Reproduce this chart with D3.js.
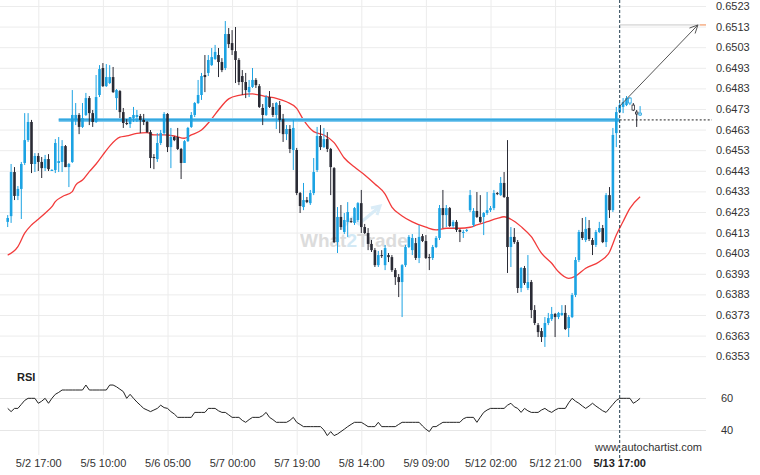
<!DOCTYPE html>
<html><head><meta charset="utf-8">
<script src="https://cdn.jsdelivr.net/npm/d3@7"></script>
<style>html,body{margin:0;padding:0;background:#fff;} svg{display:block;font-family:'Liberation Sans',Arial,sans-serif;}</style>
</head><body><svg id="chart" width="760" height="475"></svg>
<script>
// ---------- DATA ----------
const tickIndex = [9, 28, 47, 66, 85, 104, 123, 142, 161];
const tickLabels = ["5/2 17:00","5/5 10:00","5/6 05:00","5/7 00:00","5/7 19:00","5/8 14:00","5/9 09:00","5/12 02:00","5/12 21:00"];
const breakoutIndex = 180;
const breakoutLabel = "5/13 17:00";
const yTicks = [0.6353,0.6363,0.6373,0.6383,0.6393,0.6403,0.6413,0.6423,0.6433,0.6443,0.6453,0.6463,0.6473,0.6483,0.6493,0.6503,0.6513,0.6523];
const rsiTicks = [40, 60];
const supportPrice = 0.64677;
const supportStartIndex = 15;
const arrowStart = [180, 0.64744];
const arrowEnd = [203, 0.65138];

const opens = [
0.64182,0.64210,0.64424,0.64308,0.64342,0.64468,0.64579,0.64667,0.64463,0.64502,
0.64473,0.64443,0.64487,0.64434,0.64434,0.64468,0.64473,0.64550,0.64448,0.64473,
0.64677,0.64701,0.64643,0.64701,0.64783,0.64710,0.64667,0.64798,0.64929,0.64841,
0.64856,0.64885,0.64783,0.64817,0.64715,0.64662,0.64657,0.64686,0.64691,0.64696,
0.64677,0.64667,0.64618,0.64497,0.64487,0.64565,0.64613,0.64706,0.64545,0.64594,
0.64594,0.64536,0.64468,0.64574,0.64643,0.64701,0.64759,0.64798,0.64895,0.64905,
0.64943,0.64973,0.64992,0.64958,0.64929,0.65094,0.65050,0.65011,0.64968,0.64890,
0.64861,0.64812,0.64837,0.64871,0.64841,0.64735,0.64701,0.64788,0.64740,0.64701,
0.64749,0.64681,0.64608,0.64633,0.64531,0.64531,0.64322,0.64254,0.64288,0.64273,
0.64322,0.64434,0.64599,0.64545,0.64584,0.64536,0.64443,0.64084,0.64206,0.64133,
0.64182,0.64186,0.64177,0.64191,0.64273,0.64157,0.64128,0.64075,0.64045,0.63972,
0.64021,0.63972,0.64021,0.64011,0.63948,0.63914,0.63890,0.63972,0.64060,0.64045,
0.64079,0.64007,0.64113,0.64089,0.64011,0.64007,0.64060,0.64104,0.64249,0.64215,
0.64249,0.64162,0.64182,0.64143,0.64128,0.64138,0.64239,0.64167,0.64235,0.64206,
0.64206,0.64225,0.64239,0.64249,0.64322,0.64312,0.64371,0.64303,0.64060,0.64109,
0.64084,0.63861,0.63958,0.63861,0.63890,0.63754,0.63681,0.63652,0.63623,0.63691,
0.63710,0.63735,0.63720,0.63730,0.63740,0.63667,0.63720,0.63827,0.63997,0.64133,
0.64094,0.64152,0.64094,0.64070,0.64133,0.64152,0.64084,0.64312,0.64239,0.64613,
0.64715,0.64740,0.64749,0.64759,0.64749,0.64715,0.64701];
const highs = [
0.64215,0.64463,0.64448,0.64356,0.64473,0.64710,0.64710,0.64677,0.64516,0.64516,
0.64497,0.64507,0.64511,0.64438,0.64584,0.64594,0.64579,0.64555,0.64468,0.64822,
0.64759,0.64710,0.64759,0.64808,0.64793,0.64725,0.64895,0.64943,0.64953,0.64948,
0.64943,0.64934,0.64827,0.64822,0.64735,0.64681,0.64691,0.64740,0.64725,0.64706,
0.64706,0.64672,0.64628,0.64511,0.64613,0.64628,0.64715,0.64710,0.64638,0.64599,
0.64638,0.64541,0.64579,0.64643,0.64715,0.64764,0.64871,0.64905,0.64992,0.64992,
0.65026,0.65041,0.65026,0.64977,0.65157,0.65123,0.65113,0.65128,0.64977,0.64919,
0.64905,0.64871,0.64929,0.64880,0.64851,0.64754,0.64798,0.64817,0.64759,0.64764,
0.64769,0.64706,0.64652,0.64652,0.64677,0.64541,0.64327,0.64371,0.64303,0.64337,
0.64492,0.64643,0.64652,0.64638,0.64618,0.64541,0.64448,0.64254,0.64264,0.64225,
0.64278,0.64201,0.64254,0.64278,0.64337,0.64172,0.64152,0.64094,0.64055,0.64041,
0.64045,0.64070,0.64031,0.64021,0.63958,0.63929,0.63977,0.64070,0.64118,0.64123,
0.64104,0.64167,0.64123,0.64118,0.64026,0.64070,0.64113,0.64264,0.64337,0.64264,
0.64254,0.64191,0.64191,0.64148,0.64143,0.64148,0.64337,0.64249,0.64327,0.64312,
0.64230,0.64327,0.64259,0.64337,0.64327,0.64400,0.64424,0.64579,0.64157,0.64152,
0.64094,0.63963,0.63968,0.64021,0.63900,0.63778,0.63691,0.63667,0.63720,0.63740,
0.63769,0.63740,0.63745,0.63778,0.63778,0.63730,0.63837,0.64011,0.64143,0.64201,
0.64206,0.64191,0.64104,0.64143,0.64182,0.64167,0.64322,0.64351,0.64638,0.64740,
0.64759,0.64783,0.64793,0.64788,0.64759,0.64725,0.64744];
const lows = [
0.64157,0.64177,0.64288,0.64288,0.64196,0.64458,0.64570,0.64419,0.64424,0.64429,
0.64395,0.64429,0.64429,0.64429,0.64419,0.64424,0.64424,0.64448,0.64351,0.64468,
0.64652,0.64608,0.64638,0.64696,0.64652,0.64643,0.64662,0.64788,0.64837,0.64837,
0.64851,0.64808,0.64725,0.64686,0.64638,0.64652,0.64638,0.64667,0.64667,0.64613,
0.64652,0.64613,0.64443,0.64438,0.64473,0.64555,0.64604,0.64521,0.64443,0.64574,
0.64531,0.64390,0.64468,0.64570,0.64638,0.64691,0.64754,0.64774,0.64812,0.64890,
0.64939,0.64968,0.64885,0.64909,0.64919,0.65026,0.64992,0.64856,0.64846,0.64798,
0.64783,0.64788,0.64832,0.64832,0.64735,0.64652,0.64696,0.64735,0.64691,0.64633,
0.64613,0.64570,0.64579,0.64516,0.64434,0.64312,0.64225,0.64239,0.64273,0.64264,
0.64312,0.64424,0.64531,0.64541,0.64521,0.64312,0.64079,0.64031,0.64143,0.64123,
0.64109,0.64177,0.64167,0.64182,0.64128,0.64123,0.64045,0.64036,0.63963,0.63963,
0.64007,0.63948,0.63987,0.63939,0.63876,0.63817,0.63720,0.63963,0.64055,0.64021,
0.63997,0.63982,0.64084,0.64002,0.63948,0.63997,0.64055,0.64094,0.64152,0.64157,
0.64157,0.64152,0.64133,0.64084,0.64104,0.64133,0.64230,0.64157,0.64201,0.64177,
0.64118,0.64215,0.64230,0.64239,0.64312,0.64308,0.64298,0.63934,0.63963,0.64075,
0.63837,0.63841,0.63876,0.63851,0.63715,0.63681,0.63623,0.63599,0.63575,0.63681,
0.63701,0.63623,0.63710,0.63725,0.63657,0.63623,0.63715,0.63817,0.63987,0.64094,
0.64084,0.64089,0.64021,0.64060,0.64128,0.64079,0.64060,0.64201,0.64230,0.64545,
0.64710,0.64710,0.64744,0.64749,0.64720,0.64643,0.64696];
const closes = [
0.64201,0.64424,0.64308,0.64342,0.64463,0.64579,0.64667,0.64463,0.64502,0.64473,
0.64443,0.64487,0.64438,0.64434,0.64565,0.64477,0.64550,0.64448,0.64463,0.64701,
0.64701,0.64643,0.64686,0.64783,0.64710,0.64667,0.64788,0.64924,0.64841,0.64885,
0.64885,0.64812,0.64822,0.64715,0.64662,0.64657,0.64691,0.64701,0.64701,0.64677,
0.64667,0.64618,0.64492,0.64492,0.64565,0.64613,0.64706,0.64545,0.64594,0.64579,
0.64536,0.64468,0.64574,0.64638,0.64701,0.64759,0.64798,0.64890,0.64885,0.64968,
0.64982,0.65007,0.64958,0.64919,0.65094,0.65045,0.65016,0.64968,0.64861,0.64861,
0.64822,0.64837,0.64871,0.64846,0.64740,0.64701,0.64788,0.64740,0.64701,0.64759,
0.64677,0.64608,0.64633,0.64536,0.64638,0.64322,0.64259,0.64288,0.64278,0.64322,
0.64424,0.64599,0.64545,0.64584,0.64536,0.64448,0.64084,0.64206,0.64157,0.64191,
0.64230,0.64182,0.64249,0.64273,0.64157,0.64128,0.64075,0.64045,0.63972,0.64021,
0.64016,0.64055,0.64011,0.63948,0.63914,0.63890,0.63972,0.64060,0.64109,0.64104,
0.64007,0.64109,0.64089,0.64007,0.64007,0.64060,0.64104,0.64249,0.64215,0.64249,
0.64162,0.64182,0.64143,0.64133,0.64133,0.64143,0.64312,0.64235,0.64206,0.64182,
0.64225,0.64239,0.64249,0.64322,0.64317,0.64371,0.64303,0.64060,0.64109,0.64084,
0.63861,0.63958,0.63885,0.63890,0.63754,0.63691,0.63647,0.63623,0.63691,0.63715,
0.63735,0.63720,0.63740,0.63740,0.63662,0.63720,0.63827,0.63997,0.64133,0.64104,
0.64148,0.64099,0.64070,0.64133,0.64152,0.64084,0.64312,0.64239,0.64604,0.64715,
0.64749,0.64764,0.64783,0.64783,0.64725,0.64706,0.64710];

const maIndex = [0,3,5,7,9,11,13,14,16,19,20,22,24,26,28,30,33,35,38,41,43,46,49,52,54,57,60,62,65,68,72,76,79,82,85,87,90,93,96,99,102,105,108,111,113,116,119,123,126,129,133,136,138,141,144,146,148,151,154,157,160,162,165,167,170,174,177,179,181,183,186];
const maValues = [
0.64021,0.64062,0.64127,0.64167,0.64195,0.64224,0.64256,0.64280,0.64304,0.64329,
0.64361,0.64385,0.64426,0.64463,0.64507,0.64550,0.64593,0.64599,0.64612,0.64615,
0.64604,0.64604,0.64599,0.64588,0.64604,0.64628,0.64682,0.64725,0.64779,0.64796,
0.64803,0.64790,0.64782,0.64765,0.64733,0.64677,0.64620,0.64604,0.64567,0.64492,
0.64448,0.64410,0.64366,0.64317,0.64254,0.64211,0.64182,0.64156,0.64143,0.64151,
0.64151,0.64156,0.64167,0.64183,0.64199,0.64207,0.64195,0.64159,0.64110,0.64030,
0.63981,0.63940,0.63908,0.63919,0.63957,0.63989,0.64036,0.64118,0.64184,0.64248,
0.64304];

const rsiValues = [
53.5,51.5,53.5,53.5,56,58.5,59.8,59.8,59.8,56.7,
58,59.8,56.7,59.8,62.3,63.5,65,65,65,65,
65,65,65,68.1,65,65,65,65,65,65,
68.1,68.1,67,65.5,64,59.8,62.3,59.8,57.5,55.5,
53.5,52.5,51.5,52.5,53.5,55.5,54,53.5,51.5,50,
47.9,47.9,47.9,47.9,47.9,51,51,51,51,53.5,
53.5,53.5,52,51,51,49.5,47.9,47.9,47.9,46,
44.8,46.5,47.9,47.9,47.9,49,51,47.9,46.5,44.8,
44.8,44.8,44.8,46,47.9,44.8,43.5,42.1,42.1,42.1,
42.1,42.1,42.1,40,36.5,39,36.5,37.5,39,40.5,
42.1,43.5,44.8,44.8,44.8,43.5,42.1,42.1,42.1,44.8,
42.1,42.1,42.1,42.1,42.1,43.5,44.8,44.8,44.8,44.8,
44.8,44.8,42.5,40.5,39,42.1,42.1,43.5,44.8,44.8,
44.8,44.8,44.8,44.8,47,47.9,47.9,47.9,44.8,48,
51,52.5,53.5,53.5,53.5,53.5,53.5,55.5,56.7,54.5,
53.5,51,53.5,52,51,51,51,52.5,53.5,52,
51,52.5,53.5,53.5,53.5,57,59.8,58,56.7,55,
53.5,55,56.7,55,53.5,52,51,53.5,56,58.5,
59.8,59.8,59.8,59.8,56.7,58,59.8];

// ---------- LAYOUT ----------
const plotRight = 706;
const upColor = "#1ca3e3", downColor = "#2a2b35", gridColor = "#ececec";
const svg = d3.select("#chart");
const x = d3.scaleLinear().domain([0, 186]).range([7.7, 640.1]);
const y = d3.scaleLinear().domain([0.6353, 0.6523]).range([356.2, 6]);
const yR = d3.scaleLinear().domain([40, 60]).range([430, 398]);

// price axis + horizontal grid
const yAxis = svg.append("g").attr("transform", `translate(${plotRight},0)`)
  .call(d3.axisRight(y).tickValues(yTicks).tickFormat(d3.format(".4f")).tickSize(-plotRight).tickPadding(10));
yAxis.select(".domain").remove();
yAxis.selectAll("line").attr("stroke", gridColor);
yAxis.selectAll("text").attr("fill", "#333").attr("font-size", 11).attr("font-family", "'Liberation Sans',Arial,sans-serif");

// RSI axis + grid
const rAxis = svg.append("g").attr("transform", `translate(${plotRight},0)`)
  .call(d3.axisRight(yR).tickValues(rsiTicks).tickSize(-plotRight).tickPadding(15));
rAxis.select(".domain").remove();
rAxis.selectAll("line").attr("stroke", "#e6e6e6");
rAxis.selectAll("text").attr("fill", "#333").attr("font-size", 11).attr("font-family", "'Liberation Sans',Arial,sans-serif");

// time axis + vertical grid
const xAxis = svg.append("g").attr("transform", "translate(0,455)")
  .call(d3.axisBottom(x).tickValues(tickIndex).tickFormat((d, i) => tickLabels[i]).tickSize(-455).tickPadding(4));
xAxis.select(".domain").remove();
xAxis.selectAll("line").attr("stroke", gridColor);
xAxis.selectAll("text").attr("fill", "#333").attr("font-size", 11).attr("font-family", "'Liberation Sans',Arial,sans-serif");

// watermark
const wm = svg.append("g").attr("opacity", 0.9);
wm.append("polyline")
  .attr("points", [[341, 229], [352, 218], [359, 224], [378, 208]].map(p => p.join(",")).join(" "))
  .attr("fill", "none").attr("stroke", "#d6ebf7").attr("stroke-width", 3);
wm.append("path").attr("d", "M371,208 L380,206 L377,215").attr("fill", "none").attr("stroke", "#d6ebf7").attr("stroke-width", 3);
const wt = wm.append("text").attr("x", 300).attr("y", 247).attr("font-size", 19).attr("font-weight", "bold")
  .attr("font-family", "'Liberation Sans',Arial,sans-serif");
wt.append("tspan").attr("fill", "#d9d9d9").text("What");
wt.append("tspan").attr("fill", "#cfe7f5").text("2");
wt.append("tspan").attr("fill", "#d9d9d9").text("Trade");

// moving average
const maPts = maIndex.map((d, i) => [d, maValues[i]]);
svg.append("path").datum(maPts)
  .attr("d", d3.line().x(d => x(d[0])).y(d => y(d[1])).curve(d3.curveMonotoneX))
  .attr("fill", "none").attr("stroke", "#f23b3b").attr("stroke-width", 1.3);

// support line
svg.append("line").attr("x1", x(supportStartIndex)).attr("x2", x(breakoutIndex))
  .attr("y1", y(supportPrice)).attr("y2", y(supportPrice))
  .attr("stroke", "#7fcaf0").attr("stroke-width", 4);
svg.append("line").attr("x1", x(supportStartIndex)).attr("x2", x(breakoutIndex))
  .attr("y1", y(supportPrice)).attr("y2", y(supportPrice))
  .attr("stroke", "#1d9bd8").attr("stroke-width", 1.4);

// candles
const candles = opens.map((o, i) => ({ i, o, h: highs[i], l: lows[i], c: closes[i] }));
const cg = svg.append("g");
const bw = 2.6;
cg.selectAll("line.wick").data(candles).join("line")
  .attr("class", "wick")
  .attr("x1", d => x(d.i)).attr("x2", d => x(d.i))
  .attr("y1", d => y(d.h)).attr("y2", d => y(d.l))
  .attr("stroke", d => d.c >= d.o ? upColor : downColor).attr("stroke-width", 1);
cg.selectAll("rect.body").data(candles).join("rect")
  .attr("class", "body")
  .attr("x", d => x(d.i) - bw / 2)
  .attr("width", bw)
  .attr("y", d => y(Math.max(d.o, d.c)))
  .attr("height", d => Math.max(1, Math.abs(y(d.o) - y(d.c))))
  .attr("fill", d => d.i > breakoutIndex + 2 ? "#fff" : (d.c >= d.o ? upColor : downColor))
  .attr("stroke", d => d.i > breakoutIndex + 2 ? (d.c >= d.o ? upColor : downColor) : "none")
  .attr("stroke-width", 0.8);

// breakout dashed vertical
svg.append("line").attr("x1", x(breakoutIndex)).attr("x2", x(breakoutIndex))
  .attr("y1", 0).attr("y2", 458)
  .attr("stroke", "#1e3a4c").attr("stroke-width", 1).attr("stroke-dasharray", "3,2");
// dotted continuation of level
svg.append("line").attr("x1", x(breakoutIndex)).attr("x2", plotRight + 6)
  .attr("y1", y(supportPrice)).attr("y2", y(supportPrice))
  .attr("stroke", "#222").attr("stroke-width", 1).attr("stroke-dasharray", "2,2");
// target level line
svg.append("line").attr("x1", x(breakoutIndex)).attr("x2", plotRight - 6)
  .attr("y1", y(arrowEnd[1])).attr("y2", y(arrowEnd[1]))
  .attr("stroke", "#c8c8c8").attr("stroke-width", 1);
svg.append("line").attr("x1", plotRight - 6).attr("x2", plotRight)
  .attr("y1", y(arrowEnd[1])).attr("y2", y(arrowEnd[1]))
  .attr("stroke", "#f0874a").attr("stroke-width", 1);
// arrow
const ax1 = x(arrowStart[0]), ay1 = y(arrowStart[1]), ax2 = x(arrowEnd[0]), ay2 = y(arrowEnd[1]);
svg.append("line").attr("x1", ax1).attr("y1", ay1).attr("x2", ax2).attr("y2", ay2)
  .attr("stroke", "#555").attr("stroke-width", 1);
const ang = Math.atan2(ay2 - ay1, ax2 - ax1), L = 9, spread = 0.45;
svg.append("path")
  .attr("d", `M${ax2 - L * Math.cos(ang - spread)},${ay2 - L * Math.sin(ang - spread)} L${ax2},${ay2} L${ax2 - L * Math.cos(ang + spread)},${ay2 - L * Math.sin(ang + spread)}`)
  .attr("fill", "none").attr("stroke", "#555").attr("stroke-width", 1);

// RSI line
svg.append("path").datum(rsiValues)
  .attr("d", d3.line().x((d, i) => x(i)).y(d => yR(d)))
  .attr("fill", "none").attr("stroke", "#222").attr("stroke-width", 1);
svg.append("text").attr("x", 17).attr("y", 381).attr("font-size", 11).attr("font-weight", "bold")
  .attr("fill", "#222").text("RSI");

// breakout label + credit
svg.append("text").attr("x", x(breakoutIndex)).attr("y", 467).attr("text-anchor", "middle")
  .attr("font-size", 11).attr("font-weight", "bold").attr("fill", "#222").text(breakoutLabel);
svg.append("text").attr("x", 595).attr("y", 451).attr("font-size", 11).attr("fill", "#333").text("www.autochartist.com");
</script></body></html>
